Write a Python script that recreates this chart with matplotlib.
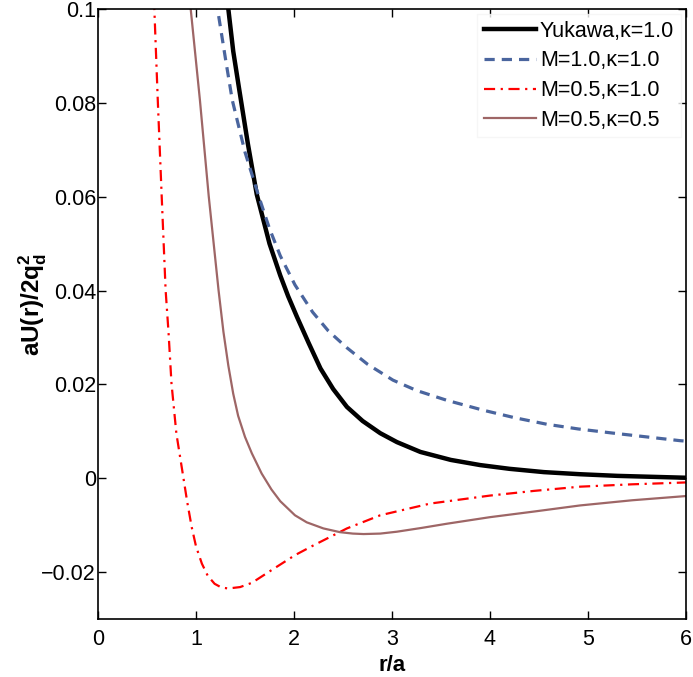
import matplotlib
matplotlib.use("Agg")
import matplotlib.pyplot as plt

plt.rcParams['font.family'] = ['Liberation Sans', 'DejaVu Sans']
plt.rcParams['mathtext.fontset'] = 'custom'
plt.rcParams['mathtext.rm'] = 'Liberation Sans'
plt.rcParams['mathtext.bf'] = 'Liberation Sans:bold'

# Yukawa, kappa=1.0
r_yuk = [1.30, 1.33, 1.38, 1.44, 1.53, 1.62, 1.75, 1.86, 1.94, 2.03, 2.15, 2.27, 2.40, 2.54, 2.70,
         2.88, 3.05, 3.29, 3.60, 3.90, 4.20, 4.55, 4.92, 5.30, 5.65, 6.0]
u_yuk = [0.106, 0.100, 0.0910, 0.0830, 0.0712, 0.0605, 0.0500, 0.0432, 0.0388, 0.0344, 0.0288,
         0.0234, 0.0190, 0.0152, 0.0122, 0.0096, 0.0077, 0.0056, 0.0039, 0.0028, 0.0020,
         0.0013, 0.00085, 0.0005, 0.0003, 0.0001]

# M=1.0, kappa=1.0
r_m1 = [1.19, 1.22, 1.30, 1.37, 1.50, 1.64, 1.75, 1.86, 2.01, 2.19, 2.35, 2.54, 2.75, 3.01,
        3.25, 3.56, 3.93, 4.25, 4.58, 4.90, 5.26, 5.60, 5.94, 6.0]
u_m1 = [0.105, 0.100, 0.0895, 0.0806, 0.0695, 0.0601, 0.0532, 0.0474, 0.0412, 0.0354,
        0.0314, 0.0278, 0.0243, 0.0209, 0.0187, 0.0166, 0.0145, 0.0129, 0.0115, 0.0105,
        0.0096, 0.0088, 0.0080, 0.0079]

# M=0.5, kappa=1.0
r_m05a = [0.565, 0.575, 0.61, 0.65, 0.69, 0.72, 0.75, 0.80, 0.87, 0.91, 0.956, 1.00, 1.06,
          1.12, 1.19, 1.26, 1.33, 1.45, 1.57, 1.77, 2.01, 2.20, 2.54, 2.88, 3.39, 4.00,
          4.45, 4.92, 5.45, 6.0]
u_m05a = [0.105, 0.100, 0.0806, 0.0601, 0.0401, 0.0310, 0.0202, 0.0095, 0.0003, -0.0050,
          -0.0104, -0.0145, -0.0182, -0.0208, -0.0225, -0.0233, -0.0235, -0.0232, -0.0223,
          -0.0196, -0.0164, -0.0143, -0.0107, -0.0079, -0.0054, -0.0037, -0.0027, -0.0018,
          -0.0013, -0.0009]

# M=0.5, kappa=0.5
r_m05b = [0.935, 0.946, 1.04, 1.13, 1.23, 1.28, 1.33, 1.38, 1.43, 1.50, 1.57, 1.67, 1.77, 1.86,
          2.01, 2.13, 2.30, 2.47, 2.60, 2.71, 2.88, 3.05, 3.30, 3.56, 4.00, 4.45, 4.92,
          5.45, 6.0]
u_m05b = [0.105, 0.100, 0.0806, 0.0601, 0.0401, 0.0312, 0.0240, 0.0180, 0.0133, 0.0088, 0.0053,
          0.0010, -0.0024, -0.0049, -0.0079, -0.0094, -0.0107, -0.0115, -0.0118, -0.0119,
          -0.0118, -0.0114, -0.0106, -0.0097, -0.0083, -0.0071, -0.0058, -0.0047, -0.0038]

labels = ['Yukawa,\u03ba=1.0', 'M=1.0,\u03ba=1.0', 'M=0.5,\u03ba=1.0', 'M=0.5,\u03ba=0.5']
xticks = [0, 1, 2, 3, 4, 5, 6]
yticks = [-0.02, 0, 0.02, 0.04, 0.06, 0.08, 0.1]
ytick_labels = ['\u22120.02', '0', '0.02', '0.04', '0.06', '0.08', '0.1']

fig = plt.figure(figsize=(6.93, 6.77), dpi=100)
ax = fig.add_axes([0.1414, 0.0857, 0.8485, 0.901])

ax.plot(r_yuk, u_yuk, color='black', lw=3.2, label=labels[0])
ax.plot(r_m1, u_m1, color='#4a659e', lw=2.3, linestyle=(0, (3.2, 2.2)), label=labels[1])
ax.plot(r_m05a, u_m05a, color='#ff0000', lw=1.6, linestyle=(0, (5, 2.5, 1, 2.5)), label=labels[2])
ax.plot(r_m05b, u_m05b, color='#9e6666', lw=1.6, label=labels[3])

ax.set_xlim(0, 6)
ax.set_ylim(-0.03, 0.1)
ax.set_xticks(xticks)
ax.set_xticklabels([str(t) for t in xticks])
ax.set_yticks(yticks)
ax.set_yticklabels(ytick_labels)
ax.tick_params(direction='in', top=True, right=True, length=6, width=1, labelsize=15.5)
ax.tick_params(axis='x', pad=7.5)
ax.tick_params(axis='y', pad=1.5)
for s in ax.spines.values():
    s.set_linewidth(1.2)

ax.set_xlabel('r/a', fontsize=16, fontweight='bold', labelpad=3)
ax.set_ylabel(r'aU(r)/2q$_\mathbf{d}^\mathbf{2}$', fontsize=17.5, fontweight='bold')
ax.yaxis.set_label_coords(-0.084, 0.515)

leg = ax.legend(loc='upper right', fontsize=15.5, frameon=True, fancybox=False,
                edgecolor='#f4f4f4', handlelength=2.4, handletextpad=0.2,
                borderaxespad=0.25, labelspacing=0.4, borderpad=0.3)

fig.savefig('out.png', dpi=100)
